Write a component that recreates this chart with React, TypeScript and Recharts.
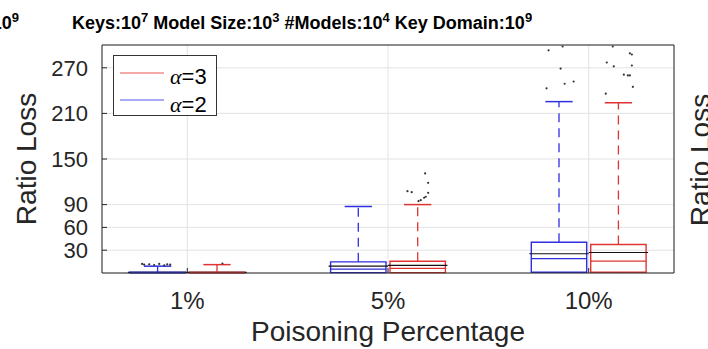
import React from 'react';
import {
  ComposedChart,
  XAxis,
  YAxis,
  CartesianGrid,
  ReferenceArea,
  ReferenceLine,
  Scatter,
} from 'recharts';

// ---------- data ----------
const categories = ['1%', '5%', '10%'];
const categoryPositions = [1, 2, 3];
const yTicks = [30, 60, 90, 150, 210, 270];

// alpha = 2 (blue)
const alpha2Low = [0, 0, 0];
const alpha2Q1 = [0.2, 0.5, 1];
const alpha2Median = [0.6, 5, 19];
const alpha2Q3 = [1.2, 14.7, 40.5];
const alpha2High = [9, 87.5, 225.5];
const alpha2Mean = [0.9, 9, 25.3];
const alpha2OutlierX = [0.775, 0.785, 0.81, 0.835, 0.86, 0.885, 0.9, 0.915, 2.8, 2.87, 2.86, 2.88, 2.925, 2.79];
const alpha2OutlierY = [12, 11, 11.5, 10.5, 12, 10, 11.5, 11, 293, 298, 269, 249, 252, 243];

// alpha = 3 (red)
const alpha3Low = [0, 0, 0];
const alpha3Q1 = [0.2, 0.5, 1];
const alpha3Median = [0.6, 6, 15.5];
const alpha3Q3 = [1.2, 15.5, 37.5];
const alpha3High = [11, 90, 224];
const alpha3Mean = [0.9, 10, 27];
const alpha3OutlierX = [1.175, 2.097, 2.118, 2.185, 2.2, 2.2, 2.152, 2.163, 2.18, 2.188, 3.12, 3.205, 3.215, 3.09, 3.125, 3.215, 3.175, 3.195, 3.205, 3.22, 3.085];
const alpha3OutlierY = [12.5, 107.6, 106.3, 131, 118.7, 105.5, 94.5, 95.8, 99, 100.3, 298, 289, 287.5, 277, 272, 273, 261, 260, 260, 245, 236];

// ---------- styles ----------
const FONT = '"Liberation Sans", Arial, Helvetica, sans-serif';
const AXIS = '#262626';
const BLUE = '#2f2fe0';
const RED = '#e03434';
const BOX_OFFSET = 0.148;
const BOX_HALF = 0.138;
const MEAN_HALF = 0.148;
const CAP_HALF = 0.068;

const minorTicks = Array.from({ length: 61 }, (_, i) => i * 5);

const outliers = [
  ...alpha2OutlierX.map((x, i) => ({ x, y: alpha2OutlierY[i] })),
  ...alpha3OutlierX.map((x, i) => ({ x, y: alpha3OutlierY[i] })),
];

function boxElements(
  prefix: string,
  color: string,
  side: number,
  low: number[],
  q1: number[],
  med: number[],
  q3: number[],
  high: number[],
  mean: number[]
) {
  return categoryPositions.flatMap((c, i) => {
    const cx = c + side * BOX_OFFSET;
    return [
      <ReferenceLine
        key={prefix + 'mean' + i}
        segment={[{ x: cx - MEAN_HALF, y: mean[i] }, { x: cx + MEAN_HALF, y: mean[i] }]}
        stroke="#111"
        strokeWidth={1.2}
        ifOverflow="visible"
      />,
      <ReferenceLine
        key={prefix + 'wu' + i}
        segment={[{ x: cx, y: q3[i] }, { x: cx, y: high[i] }]}
        stroke={color}
        strokeWidth={1.3}
        strokeDasharray="9 6"
        ifOverflow="visible"
      />,
      <ReferenceLine
        key={prefix + 'wl' + i}
        segment={[{ x: cx, y: low[i] }, { x: cx, y: q1[i] }]}
        stroke={color}
        strokeWidth={1.3}
        strokeDasharray="9 6"
        ifOverflow="visible"
      />,
      <ReferenceLine
        key={prefix + 'cap' + i}
        segment={[{ x: cx - CAP_HALF, y: high[i] }, { x: cx + CAP_HALF, y: high[i] }]}
        stroke={color}
        strokeWidth={1.5}
        ifOverflow="visible"
      />,
      <ReferenceArea
        key={prefix + 'box' + i}
        x1={cx - BOX_HALF}
        x2={cx + BOX_HALF}
        y1={q1[i]}
        y2={q3[i]}
        fill="none"
        fillOpacity={0}
        stroke={color}
        strokeWidth={1.4}
        ifOverflow="visible"
      />,
      <ReferenceLine
        key={prefix + 'med' + i}
        segment={[{ x: cx - BOX_HALF, y: med[i] }, { x: cx + BOX_HALF, y: med[i] }]}
        stroke={color}
        strokeWidth={1.3}
        ifOverflow="visible"
      />,
    ];
  });
}

const Dot = (props: any) => <circle cx={props.cx} cy={props.cy} r={1.1} fill="#333" />;

export default function App() {
  return (
    <div style={{ position: 'absolute', left: 0, top: 0, width: 708, height: 349, background: '#fff' }}>
      <ComposedChart
        width={708}
        height={349}
        margin={{ top: 44, right: 33, bottom: 75, left: 101 }}
        style={{ fontFamily: FONT }}
      >
        <CartesianGrid stroke="#e3e3e3" strokeWidth={1} />
        <XAxis
          dataKey="x"
          type="number"
          domain={[0.575, 3.425]}
          allowDataOverflow
          ticks={categoryPositions}
          interval={0}
          tickFormatter={(v: number) => categories[categoryPositions.indexOf(v)] ?? ''}
          height={1}
          tickSize={-5}
          tickMargin={24}
          stroke={AXIS}
          tick={{ fontSize: 24, fill: AXIS, fontFamily: FONT }}
        />
        <XAxis
          xAxisId="top"
          orientation="top"
          dataKey="x"
          type="number"
          domain={[0.575, 3.425]}
          allowDataOverflow
          ticks={categoryPositions}
          interval={0}
          height={1}
          tickSize={-5}
          tick={false}
          stroke={AXIS}
        />
        <YAxis
          type="number"
          domain={[0, 300]}
          allowDataOverflow
          ticks={yTicks}
          interval={0}
          width={1}
          tickSize={-5}
          tickMargin={19}
          stroke={AXIS}
          tick={{ fontSize: 22, fill: AXIS, fontFamily: FONT }}
        />
        <YAxis
          yAxisId="minorL"
          mirror
          type="number"
          domain={[0, 300]}
          allowDataOverflow
          ticks={minorTicks}
          interval={0}
          width={1}
          tickSize={3}
          tick={false}
          axisLine={false}
          stroke={AXIS}
        />
        <YAxis
          yAxisId="right"
          orientation="right"
          type="number"
          domain={[0, 300]}
          allowDataOverflow
          ticks={yTicks}
          interval={0}
          width={1}
          tickSize={-5}
          tick={false}
          stroke={AXIS}
        />
        <YAxis
          yAxisId="minorR"
          orientation="right"
          mirror
          type="number"
          domain={[0, 300]}
          allowDataOverflow
          ticks={minorTicks}
          interval={0}
          width={1}
          tickSize={3}
          tick={false}
          axisLine={false}
          stroke={AXIS}
        />
        {boxElements('b', BLUE, -1, alpha2Low, alpha2Q1, alpha2Median, alpha2Q3, alpha2High, alpha2Mean)}
        {boxElements('r', RED, 1, alpha3Low, alpha3Q1, alpha3Median, alpha3Q3, alpha3High, alpha3Mean)}
        <Scatter data={outliers} dataKey="y" shape={Dot} isAnimationActive={false} />
      </ComposedChart>

      <svg
        width={708}
        height={349}
        style={{ position: 'absolute', left: 0, top: 0, pointerEvents: 'none', fontFamily: FONT }}
      >
        {/* titles */}
        <text x={19} y={29} textAnchor="end" fontSize={18} fontWeight="bold" fill="#000">
          10<tspan dy={-7} fontSize={13}>9</tspan>
        </text>
        <text x={72} y={29} fontSize={18} fontWeight="bold" fill="#000" xmlSpace="preserve" style={{ whiteSpace: 'pre' }}>
          Keys:10<tspan dy={-7} fontSize={13}>7</tspan>
          <tspan dy={7}>{' Model Size:10'}</tspan>
          <tspan dy={-7} fontSize={13}>3</tspan>
          <tspan dy={7}>{' #Models:10'}</tspan>
          <tspan dy={-7} fontSize={13}>4</tspan>
          <tspan dy={7}>{' Key Domain:10'}</tspan>
          <tspan dy={-7} fontSize={13}>9</tspan>
        </text>
        {/* axis labels */}
        <text x={36} y={159} transform="rotate(-90 36 159)" textAnchor="middle" fontSize={28} fill={AXIS}>
          Ratio Loss
        </text>
        <text x={710} y={160} transform="rotate(-90 710 160)" textAnchor="middle" fontSize={28} fill={AXIS}>
          Ratio Loss
        </text>
        <text x={388} y={341} textAnchor="middle" fontSize={28} fill={AXIS}>
          Poisoning Percentage
        </text>
        {/* legend */}
        <rect x={113.5} y={55.5} width={103} height={60} fill="#fff" stroke="#333" strokeWidth={1} />
        <line x1={120} x2={164} y1={73} y2={73} stroke="#ee5555" strokeWidth={1.2} />
        <line x1={120} x2={164} y1={100} y2={100} stroke="#5555ee" strokeWidth={1.2} />
        <text x={170} y={84} fontSize={22} fill="#000">
          <tspan fontFamily='"Liberation Serif", "Times New Roman", serif' fontStyle="italic">α</tspan>=3
        </text>
        <text x={170} y={112} fontSize={22} fill="#000">
          <tspan fontFamily='"Liberation Serif", "Times New Roman", serif' fontStyle="italic">α</tspan>=2
        </text>
      </svg>
    </div>
  );
}
